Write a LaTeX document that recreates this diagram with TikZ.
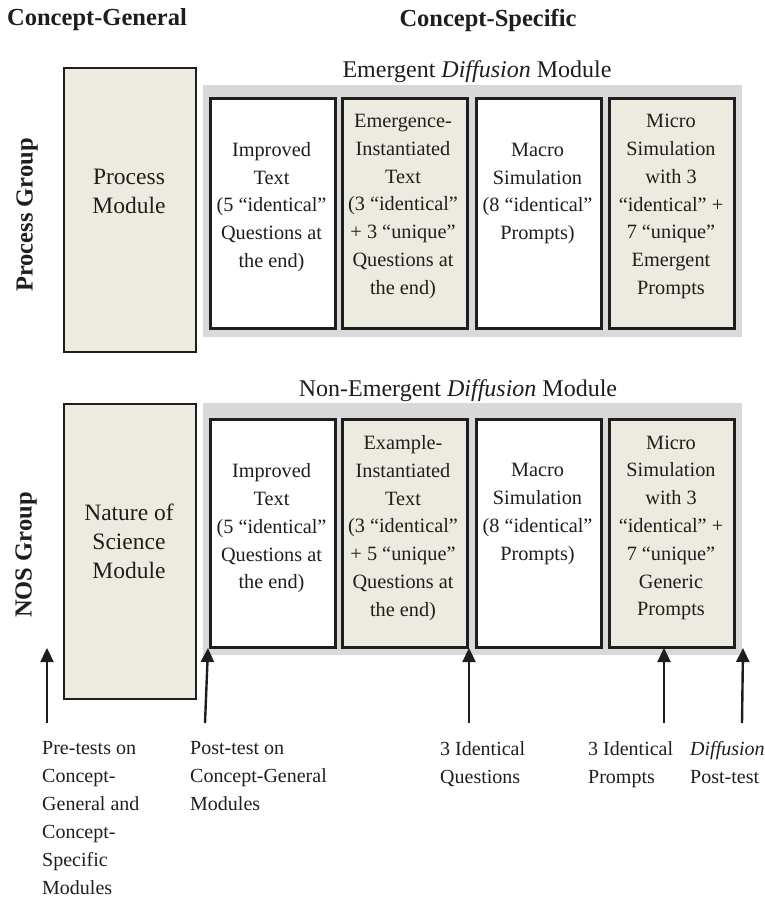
\documentclass[tikz,border=0pt]{standalone}
\usepackage{fontspec}
\setmainfont{Liberation Serif}
\usetikzlibrary{arrows.meta}
\definecolor{beige}{RGB}{237,235,224}
\definecolor{greybg}{RGB}{217,217,217}
\definecolor{ink}{RGB}{30,30,30}
\begin{document}
\begin{tikzpicture}[x=1pt,y=-1pt,
  txt/.style={font=\fontsize{20.3}{27.8}\selectfont, text=ink, align=center, inner sep=0pt},
  modtxt/.style={font=\fontsize{23.5}{29}\selectfont, text=ink, align=center, inner sep=0pt},
  lbl/.style={font=\fontsize{20}{28}\selectfont, text=ink, align=left, inner sep=0pt, anchor=north west},
  hdr/.style={font=\fontsize{24.5}{28}\selectfont\bfseries, text=ink, inner sep=0pt},
  ttl/.style={font=\fontsize{24}{28}\selectfont, text=ink, inner sep=0pt},
  greyrect/.style={fill=greybg, draw=none, anchor=north west, minimum width=539pt, minimum height=252pt, inner sep=0pt},
  modbox/.style={draw=ink, line width=2.2pt, fill=beige, anchor=north west, minimum width=132pt, inner sep=0pt},
  cbox/.style={draw=ink, line width=2.5pt, anchor=north west, minimum width=125pt, inner sep=0pt},
  arr/.style={-{Triangle[length=14pt,width=13pt]}, line width=2.4pt, draw=ink}]
\useasboundingbox (0,0) rectangle (765,899);

% headers
\node[hdr] (hg) at (97,20) {Concept-General};
\node[hdr] (hs) at (488,20) {Concept-Specific};
\node[hdr, rotate=90] (pg) at (27,215) {Process Group};
\node[hdr, rotate=90] (ng) at (26,555) {NOS Group};

% row 1
\node[modbox, minimum height=284pt] (pm) at (63,67) {};
\node[modtxt] (pmt) at (129,191) {Process\\Module};
\node[ttl] (t1) at (477,72) {Emergent \textit{Diffusion} Module};
\node[greyrect] (g1) at (203,85) {};
\node[cbox, fill=white, minimum height=230pt] (r1b1) at (209,97) {};
\node[cbox, fill=beige, minimum height=230pt] (r1b2) at (341,97) {};
\node[cbox, fill=white, minimum height=230pt] (r1b3) at (475,97) {};
\node[cbox, fill=beige, minimum height=230pt] (r1b4) at (608,97) {};
\node[txt] (r1t1) at (271.5,207) {Improved\\Text\\(5 “identical”\\Questions at\\the end)};
\node[txt] (r1t2) at (403,206.5) {Emergence-\\Instantiated\\Text\\(3 “identical”\\+ 3 “unique”\\Questions at\\the end)};
\node[txt] (r1t3) at (537.5,193.5) {Macro\\Simulation\\(8 “identical”\\Prompts)};
\node[txt] (r1t4) at (671,206.5) {Micro\\Simulation\\with 3\\“identical” +\\7 “unique”\\Emergent\\Prompts};

% row 2
\node[modbox, minimum height=295pt] (nm) at (63,403) {};
\node[modtxt] (nmt) at (129,541) {Nature of\\Science\\Module};
\node[ttl] (t2) at (458,391) {Non-Emergent \textit{Diffusion} Module};
\node[greyrect] (g2) at (203,403) {};
\node[cbox, fill=white, minimum height=228pt] (r2b1) at (209,418) {};
\node[cbox, fill=beige, minimum height=228pt] (r2b2) at (341,418) {};
\node[cbox, fill=white, minimum height=228pt] (r2b3) at (475,418) {};
\node[cbox, fill=beige, minimum height=228pt] (r2b4) at (608,418) {};
\node[txt] (r2t1) at (271.5,528.5) {Improved\\Text\\(5 “identical”\\Questions at\\the end)};
\node[txt] (r2t2) at (403,528) {Example-\\Instantiated\\Text\\(3 “identical”\\+ 5 “unique”\\Questions at\\the end)};
\node[txt] (r2t3) at (537.5,514) {Macro\\Simulation\\(8 “identical”\\Prompts)};
\node[txt] (r2t4) at (671,528) {Micro\\Simulation\\with 3\\“identical” +\\7 “unique”\\Generic\\Prompts};

% arrows
\coordinate (a1s) at (47,723);  \coordinate (a1e) at (47,648);
\coordinate (a2s) at (205,723); \coordinate (a2e) at (208,648);
\coordinate (a3s) at (469,723); \coordinate (a3e) at (469,648);
\coordinate (a4s) at (664,723); \coordinate (a4e) at (664,648);
\coordinate (a5s) at (742,723); \coordinate (a5e) at (743,648);
\draw[arr] (a1s) -- (a1e);
\draw[arr] (a2s) -- (a2e);
\draw[arr] (a3s) -- (a3e);
\draw[arr] (a4s) -- (a4e);
\draw[arr] (a5s) -- (a5e);

% bottom labels
\node[lbl] (l1) at (42,741) {Pre-tests on\\Concept-\\General and\\Concept-\\Specific\\Modules};
\node[lbl] (l2) at (190,741) {Post-test on\\Concept-General\\Modules};
\node[lbl] (l3) at (440,741) {3 Identical\\Questions};
\node[lbl] (l4) at (588,741) {3 Identical\\Prompts};
\node[lbl] (l5) at (690,741) {\textit{Diffusion}\\Post-test};
\end{tikzpicture}
\end{document}
